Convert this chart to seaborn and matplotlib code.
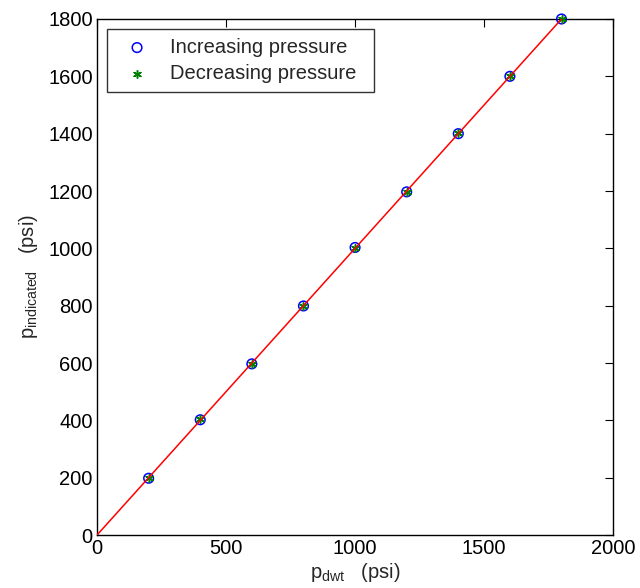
import pandas as pd
import matplotlib
matplotlib.use("Agg")
import matplotlib.pyplot as plt
import seaborn as sns

# dead-weight tester reference pressures (psi)
p_dwt = [200, 400, 600, 800, 1000, 1200, 1400, 1600, 1800]
# gauge readings
p_increasing = [198, 402, 597, 799, 1003, 1197, 1400, 1600, 1800]
p_decreasing = [200, 404, 598, 800, 1002, 1198, 1404, 1601, 1800]
# ideal line
line_x = [0, 1800]
line_y = [0, 1800]

x_ticks = [0, 500, 1000, 1500, 2000]
y_ticks = [0, 200, 400, 600, 800, 1000, 1200, 1400, 1600, 1800]


def main():
    sns.set_style("white")
    plt.rcParams['font.family'] = ['Liberation Sans', 'DejaVu Sans']
    plt.rcParams['mathtext.default'] = 'regular'
    plt.rcParams['font.size'] = 14.5

    df = pd.DataFrame({'p_dwt': p_dwt, 'inc': p_increasing, 'dec': p_decreasing})
    line_df = pd.DataFrame({'x': line_x, 'y': line_y})

    fig = plt.figure(figsize=(6.4, 5.88), dpi=100)
    ax = fig.add_axes([0.1516, 0.0901, 0.8064, 0.8776])

    sns.scatterplot(data=df, x='p_dwt', y='inc', ax=ax, marker='o', s=48,
                    facecolors='none', edgecolor='blue', linewidth=1.1,
                    label='Increasing pressure', zorder=3, clip_on=False)
    sns.scatterplot(data=df, x='p_dwt', y='dec', ax=ax, marker=(6, 2, 0), s=30,
                    color='green', edgecolor='green', linewidth=1.1,
                    label='Decreasing pressure', zorder=4, clip_on=False)
    sns.lineplot(data=line_df, x='x', y='y', ax=ax, color='red', linewidth=1.1,
                 zorder=5)

    ax.set_xlim(0, 2000)
    ax.set_ylim(0, 1800)
    ax.set_xticks(x_ticks)
    ax.set_yticks(y_ticks)
    ax.tick_params(direction='in', top=True, right=True, length=6, width=0.8,
                   labelsize=14.5, colors='black', pad=3)
    for s in ax.spines.values():
        s.set_color('black')
        s.set_linewidth(1.0)

    ax.set_xlabel('p$_{dwt}$   (psi)', fontsize=14.5, labelpad=2)
    ax.set_ylabel('p$_{indicated}$   (psi)', fontsize=14.5, labelpad=6)

    leg = ax.legend(loc='upper left', bbox_to_anchor=(0.019, 0.981, 0.517, 0),
                    mode='expand', borderaxespad=0, frameon=True, fancybox=False,
                    edgecolor='black', fontsize=14.5, handletextpad=0.6,
                    borderpad=0.45, labelspacing=0.35, handlelength=2.1)
    leg.get_frame().set_linewidth(1.0)

    fig.savefig('out.png', dpi=100)


if __name__ == '__main__':
    main()
